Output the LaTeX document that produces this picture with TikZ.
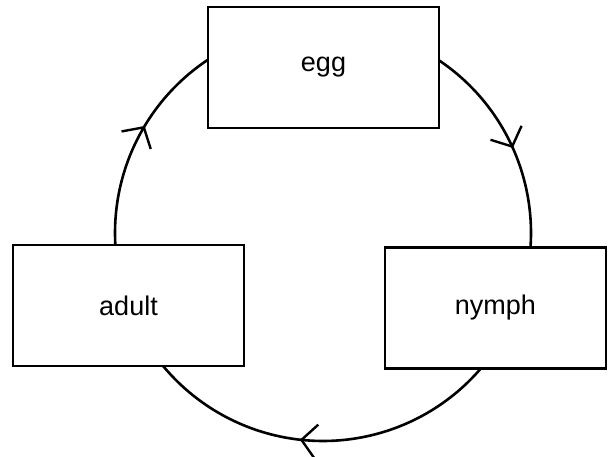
\documentclass[tikz,border=0pt]{standalone}
\usepackage{fontspec}
\setmainfont{Liberation Sans}
\usetikzlibrary{arrows.meta,decorations.markings}
\tikzset{
  stagebox/.style={draw=black, line width=2.4pt, fill=white, minimum width=231pt, minimum height=121pt, inner sep=0pt, font=\fontsize{27}{31}\selectfont},
  cyclearc/.style={draw=black, line width=2.6pt},
  midarrow/.style={postaction={decorate, decoration={markings, mark=at position #1 with {\arrow{Straight Barb[length=15pt, width=34pt, line width=2.4pt]}}}}}
}
\begin{document}
\begin{tikzpicture}[x=1pt,y=1pt]
\useasboundingbox (0,0) rectangle (608,457);
\fill[white] (0,0) rectangle (608,457);
\coordinate (c) at (323,224);
% arcs
\draw[cyclearc, midarrow=0.51] (c) ++(56.1:208) arc[start angle=56.1, end angle=-6.6, radius=208];
\draw[cyclearc, midarrow=0.56] (c) ++(-40.5:208) arc[start angle=-40.5, end angle=-140.3, radius=208];
\draw[cyclearc, midarrow=0.575] (c) ++(183.3:208) arc[start angle=183.3, end angle=123.7, radius=208];
% boxes
\node[stagebox] (egg) at (323.5,389.5) {\raisebox{-3pt}{egg}};
\node[stagebox] (adult) at (128.5,151.5) {\raisebox{-3pt}{adult}};
\node[stagebox, minimum width=221pt] (nymph) at (495.5,149) {\raisebox{-3pt}{nymph}};
\end{tikzpicture}
\end{document}
